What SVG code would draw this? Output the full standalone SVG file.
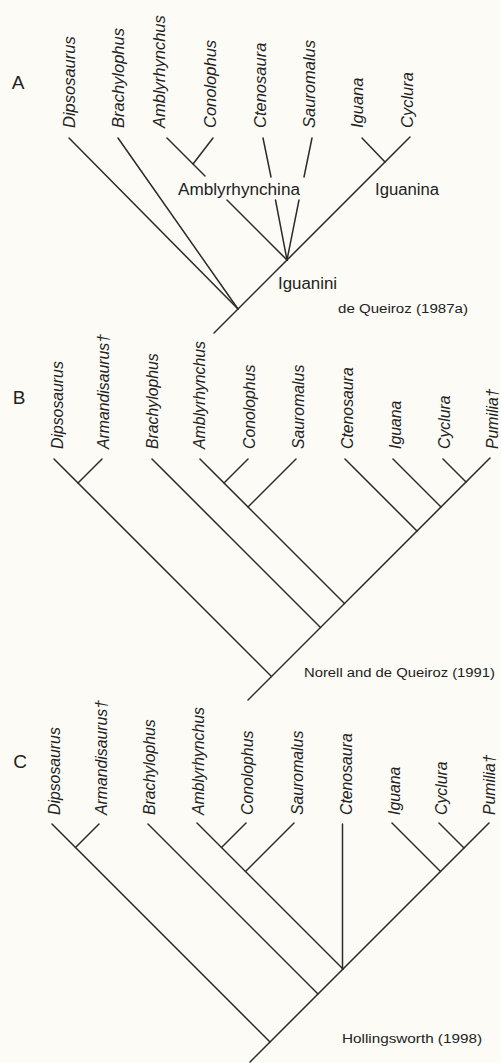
<svg xmlns="http://www.w3.org/2000/svg" width="501" height="1063" viewBox="0 0 501 1063">
<style>
.bg{fill:#fcfbf6}
.ln{stroke:#2b2b2b;stroke-width:1.5;fill:none;stroke-linecap:round}
.tx{font-family:"Liberation Sans",Arial,sans-serif;font-style:italic;fill:#222}
.ta{font-size:16.5px}
.tb{font-size:15.8px}
.pl{font-family:"Liberation Sans",Arial,sans-serif;font-size:19px;fill:#222;text-anchor:middle}
.cl{font-family:"Liberation Sans",Arial,sans-serif;font-size:16px;fill:#222}
.ref{font-family:"Liberation Sans",Arial,sans-serif;font-size:12.5px;fill:#222}
</style>
<rect class="bg" x="0" y="0" width="501" height="1063"/>

<!-- Panel A -->
<g id="panelA">
<text class="pl" x="18" y="89">A</text>
<g id="A-Dipsosaurus"><text class="tx ta" transform="translate(75,128) rotate(-90)">Dipsosaurus</text></g>
<g id="A-Brachylophus"><text class="tx ta" transform="translate(124,128) rotate(-90)">Brachylophus</text></g>
<g id="A-Amblyrhynchus"><text class="tx ta" transform="translate(165,128) rotate(-90)">Amblyrhynchus</text></g>
<g id="A-Conolophus"><text class="tx ta" transform="translate(216,128) rotate(-90)">Conolophus</text></g>
<g id="A-Ctenosaura"><text class="tx ta" transform="translate(266,128) rotate(-90)">Ctenosaura</text></g>
<g id="A-Sauromalus"><text class="tx ta" transform="translate(315,128) rotate(-90)">Sauromalus</text></g>
<g id="A-Iguana"><text class="tx ta" transform="translate(363,128) rotate(-90)">Iguana</text></g>
<g id="A-Cyclura"><text class="tx ta" transform="translate(413,128) rotate(-90)">Cyclura</text></g>
<g id="A-Amblyrhynchina"><text class="cl" x="178" y="194.5" textLength="122" lengthAdjust="spacingAndGlyphs">Amblyrhynchina</text></g>
<g id="A-Iguanina"><text class="cl" x="375" y="194.5" textLength="64" lengthAdjust="spacingAndGlyphs">Iguanina</text></g>
<g id="A-Iguanini"><text class="cl" x="278" y="289" textLength="59" lengthAdjust="spacingAndGlyphs">Iguanini</text></g>
<g id="A-ref"><text class="ref" x="338" y="313" textLength="130" lengthAdjust="spacingAndGlyphs">de Queiroz (1987a)</text></g>
<g id="A-connectors">
<path class="ln" d="M214,333 L410,137"/>
<path class="ln" d="M69,138 L238,309"/>
<path class="ln" d="M118,138 L238,309"/>
<path class="ln" d="M287,260 L227,200"/>
<path class="ln" d="M205,176 L167,138"/>
<path class="ln" d="M213,138 L193,164"/>
<path class="ln" d="M287,260 L275.5,200"/>
<path class="ln" d="M271,177 L263,138"/>
<path class="ln" d="M287,260 L299,200"/>
<path class="ln" d="M304,177 L312,138"/>
<path class="ln" d="M362,138 L385,162"/>
</g>
</g>

<!-- Panel B -->
<g id="panelB">
<text class="pl" x="19" y="404">B</text>
<g id="B-Dipsosaurus"><text class="tx tb" transform="translate(63,449) rotate(-90)">Dipsosaurus</text></g>
<g id="B-Armandisaurus"><text class="tx tb" transform="translate(109,449) rotate(-90)">Armandisaurus†</text></g>
<g id="B-Brachylophus"><text class="tx tb" transform="translate(158,449) rotate(-90)">Brachylophus</text></g>
<g id="B-Amblyrhynchus"><text class="tx tb" transform="translate(205,449) rotate(-90)">Amblyrhynchus</text></g>
<g id="B-Conolophus"><text class="tx tb" transform="translate(255,449) rotate(-90)">Conolophus</text></g>
<g id="B-Sauromalus"><text class="tx tb" transform="translate(304,449) rotate(-90)">Sauromalus</text></g>
<g id="B-Ctenosaura"><text class="tx tb" transform="translate(353,449) rotate(-90)">Ctenosaura</text></g>
<g id="B-Iguana"><text class="tx tb" transform="translate(401,449) rotate(-90)">Iguana</text></g>
<g id="B-Cyclura"><text class="tx tb" transform="translate(450,449) rotate(-90)">Cyclura</text></g>
<g id="B-Pumilia"><text class="tx tb" transform="translate(498,449) rotate(-90)">Pumilia†</text></g>
<g id="B-ref"><text class="ref" x="304" y="677" textLength="191" lengthAdjust="spacingAndGlyphs">Norell and de Queiroz (1991)</text></g>
<g id="B-connectors">
<path class="ln" d="M248,700 L490,458"/>
<path class="ln" d="M54,459 L271.5,676.5"/>
<path class="ln" d="M102,459 L78,483"/>
<path class="ln" d="M152,459 L320.5,627.5"/>
<path class="ln" d="M200,459 L344.5,603.5"/>
<path class="ln" d="M248,459 L224,483"/>
<path class="ln" d="M296,459 L248,507"/>
<path class="ln" d="M345,459 L417,531"/>
<path class="ln" d="M393,459 L441,507"/>
<path class="ln" d="M443,459 L466,482"/>
</g>
</g>

<!-- Panel C -->
<g id="panelC">
<text class="pl" x="20" y="768">C</text>
<g id="C-Dipsosaurus"><text class="tx tb" transform="translate(60,815) rotate(-90)">Dipsosaurus</text></g>
<g id="C-Armandisaurus"><text class="tx tb" transform="translate(107,815) rotate(-90)">Armandisaurus†</text></g>
<g id="C-Brachylophus"><text class="tx tb" transform="translate(155,815) rotate(-90)">Brachylophus</text></g>
<g id="C-Amblyrhynchus"><text class="tx tb" transform="translate(204,815) rotate(-90)">Amblyrhynchus</text></g>
<g id="C-Conolophus"><text class="tx tb" transform="translate(253,815) rotate(-90)">Conolophus</text></g>
<g id="C-Sauromalus"><text class="tx tb" transform="translate(303,815) rotate(-90)">Sauromalus</text></g>
<g id="C-Ctenosaura"><text class="tx tb" transform="translate(352,815) rotate(-90)">Ctenosaura</text></g>
<g id="C-Iguana"><text class="tx tb" transform="translate(400,815) rotate(-90)">Iguana</text></g>
<g id="C-Cyclura"><text class="tx tb" transform="translate(447,815) rotate(-90)">Cyclura</text></g>
<g id="C-Pumilia"><text class="tx tb" transform="translate(495,815) rotate(-90)">Pumilia†</text></g>
<g id="C-ref"><text class="ref" x="342" y="1043" textLength="140" lengthAdjust="spacingAndGlyphs">Hollingsworth (1998)</text></g>
<g id="C-connectors">
<path class="ln" d="M250,1062 L489,823"/>
<path class="ln" d="M52,824 L270,1042"/>
<path class="ln" d="M99,824 L75.5,847.5"/>
<path class="ln" d="M148,824 L318,994"/>
<path class="ln" d="M197,823 L343,969"/>
<path class="ln" d="M342.5,824 L342.5,969.5"/>
<path class="ln" d="M246,823 L221.5,847.5"/>
<path class="ln" d="M294,823 L245.5,871.5"/>
<path class="ln" d="M392,823 L440.5,871.5"/>
<path class="ln" d="M439,823 L464,848"/>
</g>
</g>
</svg>
